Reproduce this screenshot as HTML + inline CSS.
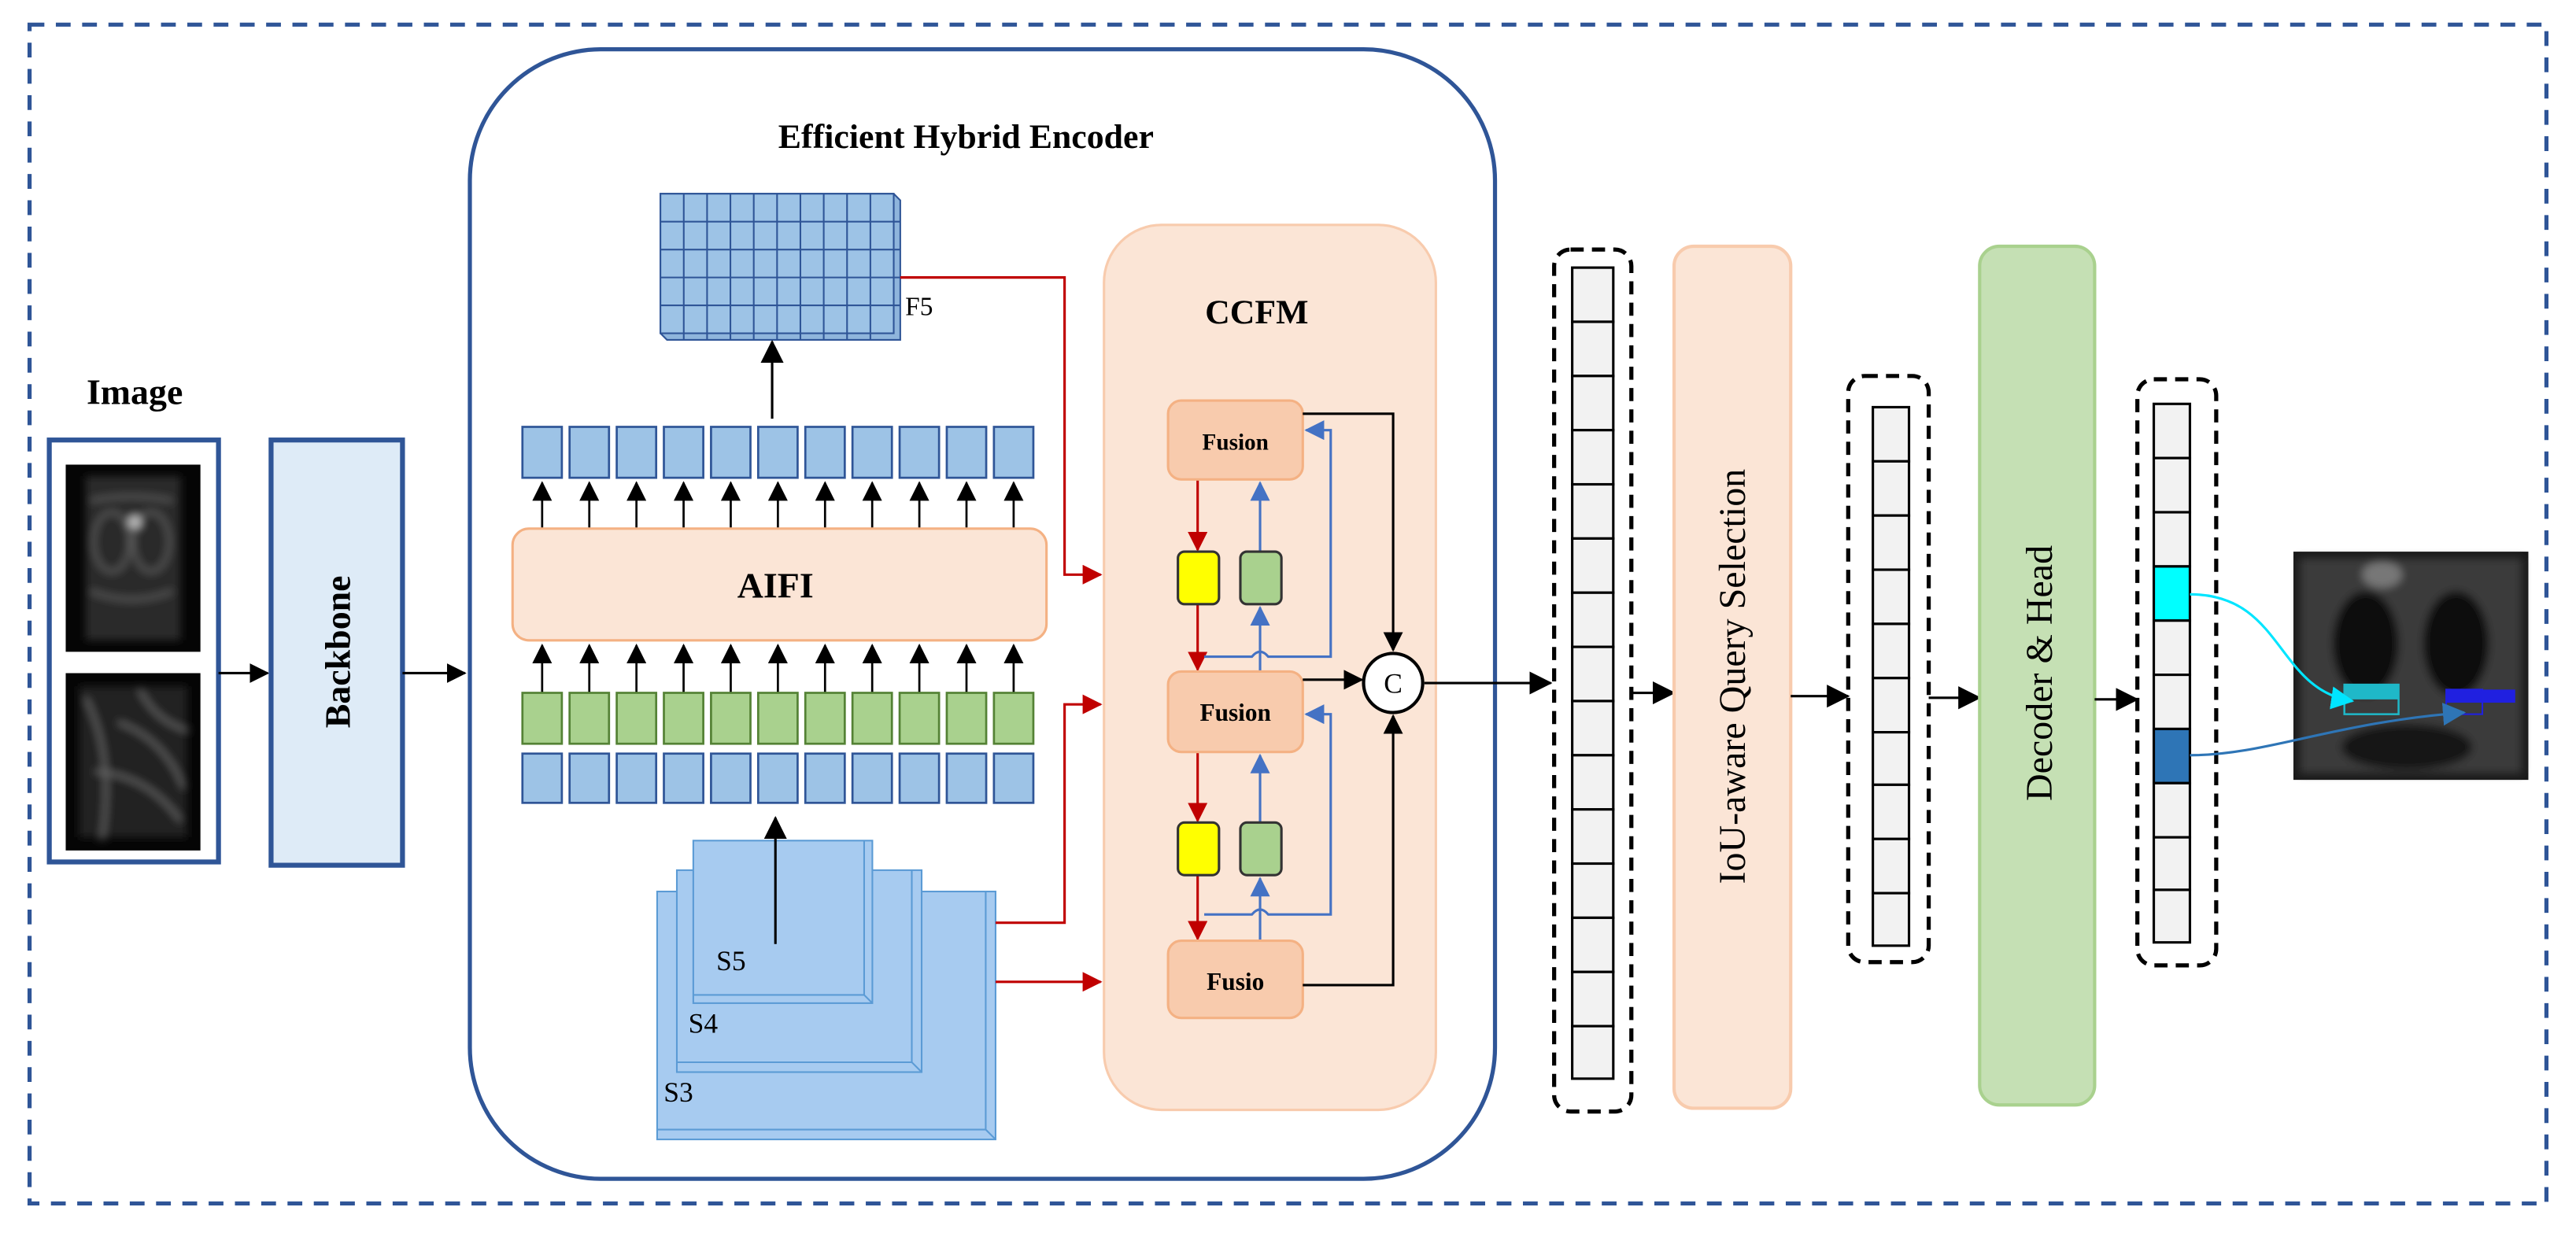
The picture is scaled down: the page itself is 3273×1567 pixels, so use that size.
<!DOCTYPE html>
<html><head><meta charset="utf-8"><style>
html,body{margin:0;padding:0;background:#fff;}
svg{display:block;}
text{font-family:"Liberation Serif",serif;}
</style></head><body>
<svg width="3273" height="1567" viewBox="0 0 1568 751" preserveAspectRatio="none" xmlns="http://www.w3.org/2000/svg">
<defs>
<marker id="ak" markerWidth="12" markerHeight="12" refX="11" refY="6" orient="auto" markerUnits="userSpaceOnUse"><path d="M0,0 L12,6 L0,12 z" fill="#000"/></marker>
<marker id="ar" markerWidth="12" markerHeight="12" refX="11" refY="6" orient="auto" markerUnits="userSpaceOnUse"><path d="M0,0 L12,6 L0,12 z" fill="#c00000"/></marker>
<marker id="ab" markerWidth="12" markerHeight="12" refX="11" refY="6" orient="auto" markerUnits="userSpaceOnUse"><path d="M0,0 L12,6 L0,12 z" fill="#4472c4"/></marker>
<marker id="akb" markerWidth="14" markerHeight="14" refX="13" refY="7" orient="auto" markerUnits="userSpaceOnUse"><path d="M0,0 L14,7 L0,14 z" fill="#000"/></marker>
<marker id="ac" markerWidth="14" markerHeight="14" refX="13" refY="7" orient="auto" markerUnits="userSpaceOnUse"><path d="M0,0 L14,7 L0,14 z" fill="#00e5ff"/></marker>
<marker id="ad" markerWidth="14" markerHeight="14" refX="13" refY="7" orient="auto" markerUnits="userSpaceOnUse"><path d="M0,0 L14,7 L0,14 z" fill="#2e75b6"/></marker>
<filter id="bl"><feGaussianBlur stdDeviation="2.5"/></filter>
</defs>

<rect x="18" y="15" width="1532" height="718" fill="none" stroke="#2f5597" stroke-width="2.5" stroke-dasharray="9,7"/>

<!-- Image -->
<text x="82" y="246" font-size="22" font-weight="bold" text-anchor="middle">Image</text>
<rect x="30" y="268" width="103" height="257" fill="#fff" stroke="#2f5597" stroke-width="3"/>
<rect x="40" y="283" width="82" height="114" fill="#050505"/>
<g filter="url(#bl)">
<rect x="52" y="290" width="58" height="100" fill="#2a2a2a"/>
<g fill="none" stroke="#6a6a6a" stroke-width="1.5">
<ellipse cx="68" cy="330" rx="11" ry="18"/><ellipse cx="92" cy="330" rx="11" ry="18"/>
<path d="M55,305 Q80,300 105,305 M55,360 Q80,370 105,360"/>
</g>
<circle cx="82" cy="318" r="4" fill="#bbb"/>
</g>
<rect x="40" y="410" width="82" height="108" fill="#050505"/>
<g filter="url(#bl)">
<rect x="48" y="418" width="66" height="92" fill="#222"/>
<g fill="none" stroke="#777" stroke-width="1.5">
<path d="M52,425 Q70,460 62,512 M72,440 Q100,450 112,480 M58,470 Q90,472 110,500 M85,420 Q95,440 115,445"/>
</g>
</g>
<line x1="133" y1="410" x2="163" y2="410" stroke="#000" stroke-width="1.5" marker-end="url(#ak)"/>

<!-- Backbone -->
<rect x="165" y="268" width="80" height="259" fill="#deebf7" stroke="#2f5597" stroke-width="3"/>
<text transform="translate(213,397) rotate(-90)" font-size="22" font-weight="bold" text-anchor="middle">Backbone</text>
<line x1="245" y1="410" x2="283" y2="410" stroke="#000" stroke-width="1.5" marker-end="url(#ak)"/>

<!-- Encoder -->
<rect x="286" y="30" width="624" height="688" rx="80" fill="none" stroke="#2f5597" stroke-width="2.5"/>
<text x="588" y="90" font-size="21" font-weight="bold" text-anchor="middle">Efficient Hybrid Encoder</text>

<g stroke="#2f5597" stroke-width="1" fill="#9dc3e6">
<path d="M402,118 L544,118 L548,122 L548,207 L406,207 L402,203 z" fill="#8fb5dc"/>
<rect x="402" y="118" width="142" height="85"/>
</g>
<g stroke="#2f5597" stroke-width="1">
<line x1="416.2" y1="118" x2="416.2" y2="207"/><line x1="430.4" y1="118" x2="430.4" y2="207"/><line x1="444.6" y1="118" x2="444.6" y2="207"/><line x1="458.8" y1="118" x2="458.8" y2="207"/><line x1="473" y1="118" x2="473" y2="207"/><line x1="487.2" y1="118" x2="487.2" y2="207"/><line x1="501.4" y1="118" x2="501.4" y2="207"/><line x1="515.6" y1="118" x2="515.6" y2="207"/><line x1="529.8" y1="118" x2="529.8" y2="207"/>
<line x1="402" y1="135" x2="548" y2="135"/><line x1="402" y1="152" x2="548" y2="152"/><line x1="402" y1="169" x2="548" y2="169"/><line x1="402" y1="186" x2="548" y2="186"/>
</g>
<text x="551" y="192" font-size="16">F5</text>
<line x1="470" y1="255" x2="470" y2="208" stroke="#000" stroke-width="1.5" marker-end="url(#akb)"/>

<g fill="#9dc3e6" stroke="#2f5597" stroke-width="1.3">
<rect x="318" y="260" width="24" height="31"/><rect x="346.7" y="260" width="24" height="31"/><rect x="375.4" y="260" width="24" height="31"/><rect x="404.1" y="260" width="24" height="31"/><rect x="432.8" y="260" width="24" height="31"/><rect x="461.5" y="260" width="24" height="31"/><rect x="490.2" y="260" width="24" height="31"/><rect x="518.9" y="260" width="24" height="31"/><rect x="547.6" y="260" width="24" height="31"/><rect x="576.3" y="260" width="24" height="31"/><rect x="605" y="260" width="24" height="31"/>
</g>
<g stroke="#000" stroke-width="1.3" marker-end="url(#ak)">
<line x1="330" y1="322" x2="330" y2="294"/><line x1="358.7" y1="322" x2="358.7" y2="294"/><line x1="387.4" y1="322" x2="387.4" y2="294"/><line x1="416.1" y1="322" x2="416.1" y2="294"/><line x1="444.8" y1="322" x2="444.8" y2="294"/><line x1="473.5" y1="322" x2="473.5" y2="294"/><line x1="502.2" y1="322" x2="502.2" y2="294"/><line x1="530.9" y1="322" x2="530.9" y2="294"/><line x1="559.6" y1="322" x2="559.6" y2="294"/><line x1="588.3" y1="322" x2="588.3" y2="294"/><line x1="617" y1="322" x2="617" y2="294"/>
</g>
<rect x="312" y="322" width="325" height="68" rx="10" fill="#fbe5d6" stroke="#f4b183" stroke-width="1.5"/>
<text x="472" y="364" font-size="22" font-weight="bold" text-anchor="middle">AIFI</text>
<g stroke="#000" stroke-width="1.3" marker-end="url(#ak)">
<line x1="330" y1="422" x2="330" y2="393"/><line x1="358.7" y1="422" x2="358.7" y2="393"/><line x1="387.4" y1="422" x2="387.4" y2="393"/><line x1="416.1" y1="422" x2="416.1" y2="393"/><line x1="444.8" y1="422" x2="444.8" y2="393"/><line x1="473.5" y1="422" x2="473.5" y2="393"/><line x1="502.2" y1="422" x2="502.2" y2="393"/><line x1="530.9" y1="422" x2="530.9" y2="393"/><line x1="559.6" y1="422" x2="559.6" y2="393"/><line x1="588.3" y1="422" x2="588.3" y2="393"/><line x1="617" y1="422" x2="617" y2="393"/>
</g>
<g fill="#a9d18e" stroke="#548235" stroke-width="1.3">
<rect x="318" y="422" width="24" height="31"/><rect x="346.7" y="422" width="24" height="31"/><rect x="375.4" y="422" width="24" height="31"/><rect x="404.1" y="422" width="24" height="31"/><rect x="432.8" y="422" width="24" height="31"/><rect x="461.5" y="422" width="24" height="31"/><rect x="490.2" y="422" width="24" height="31"/><rect x="518.9" y="422" width="24" height="31"/><rect x="547.6" y="422" width="24" height="31"/><rect x="576.3" y="422" width="24" height="31"/><rect x="605" y="422" width="24" height="31"/>
</g>
<g fill="#9dc3e6" stroke="#2f5597" stroke-width="1.3">
<rect x="318" y="459" width="24" height="30"/><rect x="346.7" y="459" width="24" height="30"/><rect x="375.4" y="459" width="24" height="30"/><rect x="404.1" y="459" width="24" height="30"/><rect x="432.8" y="459" width="24" height="30"/><rect x="461.5" y="459" width="24" height="30"/><rect x="490.2" y="459" width="24" height="30"/><rect x="518.9" y="459" width="24" height="30"/><rect x="547.6" y="459" width="24" height="30"/><rect x="576.3" y="459" width="24" height="30"/><rect x="605" y="459" width="24" height="30"/>
</g>

<g stroke="#5b9bd5" stroke-width="1" fill="#a7cbf0">
<rect x="400" y="543" width="206" height="151"/>
<path d="M600,543 L600,688 L606,694 M400,688 L600,688" fill="none"/>
<rect x="412" y="530" width="149" height="123"/>
<path d="M555,530 L555,647 L561,653 M412,647 L555,647" fill="none"/>
<rect x="422" y="512" width="109" height="99"/>
<path d="M526,512 L526,606 L531,611 M422,606 L526,606" fill="none"/>
</g>
<text x="436" y="591" font-size="17">S5</text>
<text x="419" y="629" font-size="17">S4</text>
<text x="404" y="671" font-size="17">S3</text>
<line x1="472" y1="575" x2="472" y2="498" stroke="#000" stroke-width="1.5" marker-end="url(#akb)"/>

<rect x="672" y="137" width="202" height="539" rx="35" fill="#fbe5d6" stroke="#f8cbad" stroke-width="1.5"/>
<text x="765" y="197" font-size="21" font-weight="bold" text-anchor="middle">CCFM</text>

<g stroke="#c00000" stroke-width="1.5" fill="none">
<path d="M548,169 L648,169 L648,350 L670,350" marker-end="url(#ar)"/>
<path d="M606,562 L648,562 L648,429 L670,429" marker-end="url(#ar)"/>
<path d="M606,598 L670,598" marker-end="url(#ar)"/>
<line x1="729" y1="292" x2="729" y2="335" marker-end="url(#ar)"/>
<line x1="729" y1="368" x2="729" y2="408" marker-end="url(#ar)"/>
<line x1="729" y1="458" x2="729" y2="500" marker-end="url(#ar)"/>
<line x1="729" y1="533" x2="729" y2="572" marker-end="url(#ar)"/>
</g>
<g stroke="#4472c4" stroke-width="1.5" fill="none">
<line x1="767" y1="409" x2="767" y2="370" marker-end="url(#ab)"/>
<line x1="767" y1="336" x2="767" y2="294" marker-end="url(#ab)"/>
<line x1="767" y1="573" x2="767" y2="535" marker-end="url(#ab)"/>
<line x1="767" y1="501" x2="767" y2="460" marker-end="url(#ab)"/>
<path d="M733,400 L762,400 Q767,394 772,400 L810,400 L810,262 L795,262" marker-end="url(#ab)"/>
<path d="M733,557 L762,557 Q767,551 772,557 L810,557 L810,435 L795,435" marker-end="url(#ab)"/>
</g>

<g fill="#f8cbad" stroke="#f4b183" stroke-width="1.5">
<rect x="711" y="244" width="82" height="48" rx="8"/>
<rect x="711" y="409" width="82" height="49" rx="8"/>
<rect x="711" y="573" width="82" height="47" rx="8"/>
</g>
<text x="752" y="274" font-size="14" font-weight="bold" text-anchor="middle">Fusion</text>
<text x="752" y="439" font-size="15" font-weight="bold" text-anchor="middle">Fusion</text>
<text x="752" y="603" font-size="15" font-weight="bold" text-anchor="middle">Fusio</text>
<g stroke="#333" stroke-width="1.5">
<rect x="717" y="336" width="25" height="32" rx="4" fill="#ffff00"/>
<rect x="755" y="336" width="25" height="32" rx="4" fill="#a9d18e"/>
<rect x="717" y="501" width="25" height="32" rx="4" fill="#ffff00"/>
<rect x="755" y="501" width="25" height="32" rx="4" fill="#a9d18e"/>
</g>

<g stroke="#000" stroke-width="1.5" fill="none">
<path d="M793,252 L848,252 L848,396" marker-end="url(#ak)"/>
<line x1="793" y1="414" x2="829" y2="414" marker-end="url(#ak)"/>
<path d="M793,600 L848,600 L848,436" marker-end="url(#ak)"/>
<line x1="867" y1="416" x2="944" y2="416" marker-end="url(#akb)"/>
</g>
<circle cx="848" cy="416" r="18" fill="#fff" stroke="#000" stroke-width="2"/>
<text x="848" y="422" font-size="17" text-anchor="middle">C</text>

<rect x="946" y="152" width="47" height="525" rx="10" fill="none" stroke="#000" stroke-width="2.5" stroke-dasharray="8,5"/>
<g fill="#f2f2f2" stroke="#000" stroke-width="1.5">
<rect x="957" y="163" width="25" height="33"/><rect x="957" y="196" width="25" height="33"/><rect x="957" y="229" width="25" height="33"/><rect x="957" y="262" width="25" height="33"/><rect x="957" y="295" width="25" height="33"/><rect x="957" y="328" width="25" height="33"/><rect x="957" y="361" width="25" height="33"/><rect x="957" y="394" width="25" height="33"/><rect x="957" y="427" width="25" height="33"/><rect x="957" y="460" width="25" height="33"/><rect x="957" y="493" width="25" height="33"/><rect x="957" y="526" width="25" height="33"/><rect x="957" y="559" width="25" height="33"/><rect x="957" y="592" width="25" height="33"/><rect x="957" y="625" width="25" height="32"/>
</g>
<line x1="993" y1="422" x2="1019" y2="422" stroke="#000" stroke-width="1.5" marker-end="url(#akb)"/>

<rect x="1019" y="150" width="71" height="525" rx="12" fill="#fbe5d6" stroke="#f8cbad" stroke-width="2"/>
<text transform="translate(1062,412) rotate(-90)" font-size="23" text-anchor="middle">IoU-aware Query Selection</text>
<line x1="1090" y1="424" x2="1125" y2="424" stroke="#000" stroke-width="1.5" marker-end="url(#akb)"/>

<rect x="1125" y="229" width="49" height="357" rx="10" fill="none" stroke="#000" stroke-width="2.5" stroke-dasharray="8,5"/>
<g fill="#f2f2f2" stroke="#000" stroke-width="1.5">
<rect x="1140" y="248" width="22" height="33"/><rect x="1140" y="281" width="22" height="33"/><rect x="1140" y="314" width="22" height="33"/><rect x="1140" y="347" width="22" height="33"/><rect x="1140" y="380" width="22" height="33"/><rect x="1140" y="413" width="22" height="33"/><rect x="1140" y="446" width="22" height="32"/><rect x="1140" y="478" width="22" height="33"/><rect x="1140" y="511" width="22" height="33"/><rect x="1140" y="544" width="22" height="32"/>
</g>
<line x1="1174" y1="425" x2="1205" y2="425" stroke="#000" stroke-width="1.5" marker-end="url(#akb)"/>

<rect x="1205" y="150" width="70" height="523" rx="12" fill="#c5e0b4" stroke="#a9d18e" stroke-width="2"/>
<text transform="translate(1249,410) rotate(-90)" font-size="23" text-anchor="middle">Decoder &amp; Head</text>
<line x1="1275" y1="426" x2="1301" y2="426" stroke="#000" stroke-width="1.5" marker-end="url(#akb)"/>

<rect x="1301" y="231" width="48" height="357" rx="10" fill="none" stroke="#000" stroke-width="2.5" stroke-dasharray="8,5"/>
<g fill="#f2f2f2" stroke="#000" stroke-width="1.5">
<rect x="1311" y="246" width="22" height="33"/><rect x="1311" y="279" width="22" height="33"/><rect x="1311" y="312" width="22" height="33"/><rect x="1311" y="345" width="22" height="33" fill="#00ffff"/><rect x="1311" y="378" width="22" height="33"/><rect x="1311" y="411" width="22" height="33"/><rect x="1311" y="444" width="22" height="33" fill="#2e75b6"/><rect x="1311" y="477" width="22" height="33"/><rect x="1311" y="510" width="22" height="32"/><rect x="1311" y="542" width="22" height="32"/>
</g>

<!-- output image -->
<rect x="1396" y="336" width="143" height="139" fill="#1a1a1a"/>
<g filter="url(#bl)">
<rect x="1400" y="340" width="135" height="131" fill="#3a3a3a"/>
<ellipse cx="1440" cy="392" rx="20" ry="32" fill="#0c0c0c"/>
<ellipse cx="1495" cy="392" rx="20" ry="32" fill="#0c0c0c"/>
<ellipse cx="1465" cy="455" rx="40" ry="14" fill="#151515"/>
<ellipse cx="1450" cy="350" rx="12" ry="8" fill="#777"/>
</g>
<rect x="1427" y="417" width="33" height="9" fill="#1fb8c8"/>
<rect x="1427" y="417" width="33" height="18" fill="none" stroke="#1fb8c8" stroke-width="1.2"/>
<rect x="1489" y="420" width="42" height="8" fill="#2020e0"/>
<rect x="1489" y="420" width="22" height="15" fill="none" stroke="#2020e0" stroke-width="1"/>
<path d="M1333,362 C1390,362 1385,420 1432,427" fill="none" stroke="#00e5ff" stroke-width="1.5" marker-end="url(#ac)"/>
<path d="M1333,460 C1380,460 1420,440 1500,434" fill="none" stroke="#2e75b6" stroke-width="1.5" marker-end="url(#ad)"/>
</svg>
</body></html>
